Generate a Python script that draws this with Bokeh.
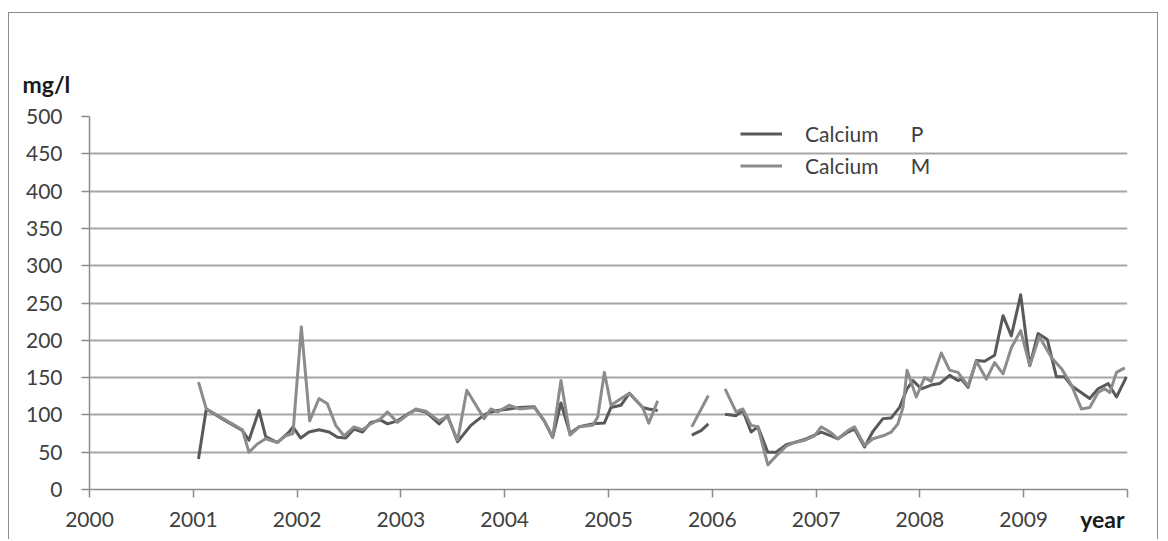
from bokeh.plotting import figure
from bokeh.models import (ColumnDataSource, FixedTicker, Legend, LegendItem, Title)
from bokeh.embed import file_html
from bokeh.resources import INLINE

NaN = float("nan")

# axis ticks
year_ticks = list(range(2000, 2011))
conc_ticks = list(range(0, 501, 50))

# Calcium P: sampling date (decimal year) and concentration (mg/l); NaN marks a gap
calcium_p_year = [
    2001.05, 2001.125, 2001.30, 2001.473, 2001.536, 2001.633, 2001.697, 2001.81,
    2001.922, 2001.96, 2002.035, 2002.115, 2002.211, 2002.308, 2002.389, 2002.469,
    2002.549, 2002.63, 2002.71, 2002.806, 2002.871, 2002.967, 2003.064, 2003.144,
    2003.24, 2003.368, 2003.449, 2003.546, 2003.674, 2003.802, 2003.867, 2003.932,
    2004.043, 2004.14, 2004.284, 2004.381, 2004.462, 2004.542, 2004.629, 2004.718,
    2004.848, 2004.96, 2005.024, 2005.121, 2005.201, 2005.33, 2005.388, 2005.474,
    NaN,
    2005.802, 2005.892, 2005.962,
    NaN,
    2006.123, 2006.229, 2006.294, 2006.374, 2006.439, 2006.535, 2006.615, 2006.712,
    2006.792, 2006.888, 2006.985, 2007.049, 2007.146, 2007.21, 2007.306, 2007.37,
    2007.467, 2007.548, 2007.644, 2007.724, 2007.804, 2007.876, 2007.933, 2008.013,
    2008.11, 2008.19, 2008.286, 2008.367, 2008.399, 2008.464, 2008.544, 2008.624,
    2008.72, 2008.801, 2008.881, 2008.971, 2009.058, 2009.138, 2009.228, 2009.315,
    2009.395, 2009.46, 2009.636, 2009.717, 2009.814, 2009.894, 2009.99,
]
calcium_p_mgl = [
    41, 108, 93, 79, 66, 106, 71, 63,
    77, 84, 69, 77, 80, 77, 70, 69,
    81, 77, 90, 93, 88, 92, 101, 107,
    104, 88, 99, 64, 86, 100, 104, 106,
    108, 110, 111, 92, 70, 116, 75, 84,
    88, 89, 110, 113, 129, 110, 108, 106,
    NaN,
    73, 79, 88,
    NaN,
    101, 99, 106, 77, 84, 50, 50, 60,
    63, 67, 73, 77, 72, 68, 77, 81,
    57, 78, 95, 96, 110, 135, 146, 135,
    140, 142, 153, 146, 148, 137, 173, 172,
    180, 233, 206, 261, 166, 209, 201, 151,
    151, 139, 122, 135, 142, 124, 151,
]

# Calcium M: sampling date (decimal year) and concentration (mg/l); NaN marks a gap
calcium_m_year = [
    2001.05, 2001.125, 2001.30, 2001.473, 2001.536, 2001.617, 2001.697, 2001.81,
    2001.89, 2001.96, 2002.041, 2002.121, 2002.211, 2002.292, 2002.372, 2002.452,
    2002.549, 2002.63, 2002.71, 2002.806, 2002.871, 2002.967, 2003.064, 2003.144,
    2003.24, 2003.368, 2003.449, 2003.546, 2003.635, 2003.802, 2003.867, 2003.932,
    2004.043, 2004.14, 2004.284, 2004.381, 2004.462, 2004.542, 2004.629, 2004.718,
    2004.848, 2004.896, 2004.96, 2005.024, 2005.121, 2005.201, 2005.33, 2005.388,
    2005.474,
    NaN,
    2005.802, 2005.962,
    NaN,
    2006.123, 2006.229, 2006.294, 2006.374, 2006.439, 2006.535, 2006.615, 2006.712,
    2006.792, 2006.888, 2006.985, 2007.049, 2007.146, 2007.21, 2007.306, 2007.37,
    2007.467, 2007.548, 2007.644, 2007.724, 2007.788, 2007.837, 2007.876, 2007.965,
    2008.045, 2008.11, 2008.206, 2008.286, 2008.367, 2008.464, 2008.544, 2008.64,
    2008.72, 2008.801, 2008.881, 2008.971, 2009.058, 2009.15, 2009.267, 2009.364,
    2009.46, 2009.556, 2009.636, 2009.717, 2009.78, 2009.83, 2009.894, 2009.974,
]
calcium_m_mgl = [
    144, 108, 94, 80, 50, 61, 68, 63,
    72, 75, 218, 92, 122, 115, 86, 72,
    84, 80, 88, 95, 104, 90, 100, 108,
    105, 92, 98, 66, 133, 95, 108, 104,
    113, 108, 110, 92, 70, 146, 73, 84,
    86, 97, 157, 113, 122, 129, 110, 89,
    119,
    NaN,
    84, 126,
    NaN,
    135, 104, 108, 86, 84, 33, 45, 58,
    63, 66, 72, 84, 76, 68, 79, 84,
    59, 68, 72, 77, 88, 110, 160, 124,
    150, 145, 183, 160, 157, 139, 172, 148,
    170, 155, 190, 213, 166, 205, 177, 162,
    140, 108, 110, 130, 135, 130, 157, 163,
]

src_p = ColumnDataSource(data=dict(year=calcium_p_year, mgl=calcium_p_mgl))
src_m = ColumnDataSource(data=dict(year=calcium_m_year, mgl=calcium_m_mgl))

FONT = "Lato"
TEXT = "#404040"
FRAME_GREY = "#8c8c8c"

p = figure(width=1150, height=527, x_range=(2000, 2010), y_range=(0, 500),
           output_backend="svg", toolbar_location=None,
           min_border_left=80, min_border_right=32,
           min_border_top=103, min_border_bottom=51)
p.margin = (12, 0, 0, 8)
# chart frame: open at the bottom edge of the page
border = f"1.5px solid {FRAME_GREY}"
p.styles = {"border-top": border, "border-left": border, "border-right": border}
p.background_fill_color = "white"
p.border_fill_color = "white"
p.outline_line_color = None

# axes
for ax in (p.xaxis, p.yaxis):
    ax.axis_line_color = FRAME_GREY
    ax.axis_line_width = 1.5
    ax.major_tick_line_color = FRAME_GREY
    ax.major_tick_line_width = 1.5
    ax.major_tick_in = 0
    ax.major_tick_out = 8
    ax.minor_tick_line_color = None
    ax.major_label_text_font = FONT
    ax.major_label_text_font_size = "21px"
    ax.major_label_text_color = TEXT

xax = p.xaxis[0]
xax.ticker = FixedTicker(ticks=year_ticks)
xax.major_label_standoff = 14
xax.major_label_overrides = {2010: ""}

p.yaxis.ticker = FixedTicker(ticks=conc_ticks)
p.yaxis.major_label_standoff = 19

p.xgrid.grid_line_color = None
p.ygrid.ticker = FixedTicker(ticks=conc_ticks[1:])
p.ygrid.grid_line_color = "#a6a6a6"
p.ygrid.grid_line_width = 2

r_p = p.line(x="year", y="mgl", source=src_p, line_color="#595959",
             line_width=3, line_join="round")
r_m = p.line(x="year", y="mgl", source=src_m, line_color="#8c8c8c",
             line_width=3, line_join="round")

legend = Legend(items=[LegendItem(label="Calcium      P", renderers=[r_p]),
                       LegendItem(label="Calcium      M", renderers=[r_m])],
                location=(651, 311))
legend.label_text_font = FONT
legend.label_text_font_size = "21px"
legend.label_text_color = TEXT
legend.glyph_width = 42
legend.glyph_height = 21
legend.label_height = 21
legend.label_standoff = 23
legend.spacing = 7
legend.padding = 0
legend.margin = 0
legend.background_fill_alpha = 0
legend.border_line_alpha = 0
p.add_layout(legend)

# unit captions of both axes
p.add_layout(Title(text="mg/l", align="left", offset=-67, standoff=37,
                   text_font=FONT, text_font_size="23px", text_font_style="bold",
                   text_color="#1a1a1a"), "above")
p.add_layout(Title(text="year", align="right", offset=3, standoff=-50,
                   vertical_align="top",
                   text_font=FONT, text_font_size="23px", text_font_style="bold",
                   text_color="#1a1a1a"), "below")

open("out.html", "w").write(file_html(p, INLINE))
